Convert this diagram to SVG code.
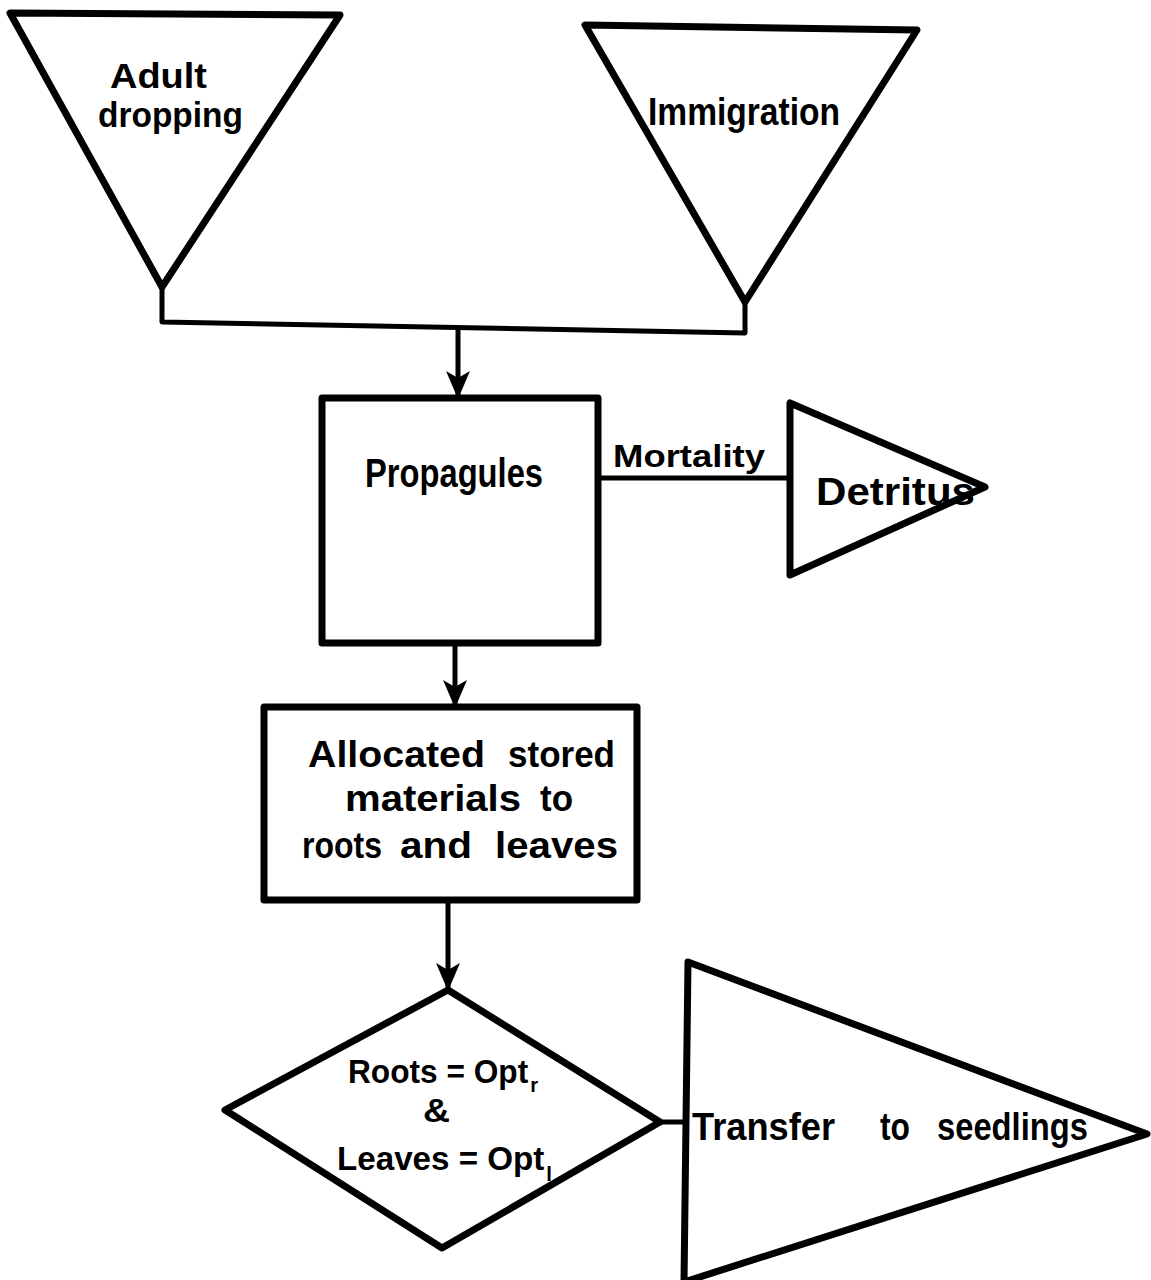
<svg xmlns="http://www.w3.org/2000/svg" width="1151" height="1280" viewBox="0 0 1151 1280">
<style>
.shape{fill:#fff;stroke:#000;stroke-width:7;stroke-linejoin:round}
.conn{fill:none;stroke:#000;stroke-width:5;stroke-linejoin:round}
.lbl{font-family:"Liberation Sans",Arial,sans-serif;font-weight:bold;font-size:38px;fill:#000}
.sub{font-size:21px}
</style>
<defs>
<marker id="ah" viewBox="0 0 28 24" refX="27" refY="12" markerWidth="28" markerHeight="24" markerUnits="userSpaceOnUse" orient="auto">
<path d="M0,0 L28,12 L0,24 L7,12 Z" fill="#000"/>
</marker>
</defs>
<rect width="1151" height="1280" fill="#fff"/>
<g id="connectors">
<polyline class="conn" points="162,287 162,322 745,333 745,302"/>
<line class="conn" x1="458" y1="328" x2="458" y2="398" marker-end="url(#ah)"/>
<line class="conn" x1="598" y1="478" x2="790" y2="478"/>
<line class="conn" x1="455" y1="643" x2="455" y2="707" marker-end="url(#ah)"/>
<line class="conn" x1="448" y1="900" x2="448" y2="990" marker-end="url(#ah)"/>
<line class="conn" x1="660" y1="1122" x2="687" y2="1122"/>
<text class="lbl" x="613" y="467" style="font-size:31px" textLength="152" lengthAdjust="spacingAndGlyphs">Mortality</text>
</g>
<g id="adult-dropping">
<polygon class="shape" points="10,13 340,15 162,287"/>
<text class="lbl" x="110" y="88" style="font-size:35px" textLength="97" lengthAdjust="spacingAndGlyphs">Adult</text>
<text class="lbl" x="98" y="127" style="font-size:35px" textLength="145" lengthAdjust="spacingAndGlyphs">dropping</text>
</g>
<g id="immigration">
<polygon class="shape" points="585,25 917,30 745,302"/>
<text class="lbl" x="648" y="125" style="font-size:39px" textLength="192" lengthAdjust="spacingAndGlyphs">Immigration</text>
</g>
<g id="propagules">
<rect class="shape" x="322" y="398" width="276" height="245"/>
<text class="lbl" x="365" y="487" style="font-size:40px" textLength="178" lengthAdjust="spacingAndGlyphs">Propagules</text>
</g>
<g id="detritus">
<polygon class="shape" points="790,403 790,575 985,487"/>
<text class="lbl" x="816" y="505" style="font-size:39px" textLength="159" lengthAdjust="spacingAndGlyphs">Detritus</text>
</g>
<g id="allocated">
<rect class="shape" x="264" y="707" width="373" height="193"/>
<text class="lbl" y="767" style="font-size:36px"><tspan x="308" textLength="177" lengthAdjust="spacingAndGlyphs">Allocated</tspan> <tspan x="508" textLength="107" lengthAdjust="spacingAndGlyphs">stored</tspan></text>
<text class="lbl" y="811" style="font-size:36px"><tspan x="345" textLength="176" lengthAdjust="spacingAndGlyphs">materials</tspan> <tspan x="540" textLength="33" lengthAdjust="spacingAndGlyphs">to</tspan></text>
<text class="lbl" y="858" style="font-size:36px"><tspan x="302" textLength="80" lengthAdjust="spacingAndGlyphs">roots</tspan> <tspan x="400" textLength="72" lengthAdjust="spacingAndGlyphs">and</tspan> <tspan x="495" textLength="123" lengthAdjust="spacingAndGlyphs">leaves</tspan></text>
</g>
<g id="decision">
<polygon class="shape" points="448,990 660,1122 442,1248 225,1110"/>
<text class="lbl" x="348" y="1083" style="font-size:33px" textLength="190" lengthAdjust="spacingAndGlyphs">Roots = Opt<tspan class="sub" dx="2" dy="9">r</tspan></text>
<text class="lbl" x="423" y="1122" style="font-size:34px" textLength="27" lengthAdjust="spacingAndGlyphs">&amp;</text>
<text class="lbl" x="337" y="1170" style="font-size:34px" textLength="215" lengthAdjust="spacingAndGlyphs">Leaves = Opt<tspan class="sub" dx="2" dy="11">l</tspan></text>
</g>
<g id="transfer">
<polygon class="shape" points="688,962 1147,1134 684,1282"/>
<text class="lbl" y="1140" style="font-size:39px"><tspan x="692" textLength="143" lengthAdjust="spacingAndGlyphs">Transfer</tspan> <tspan x="880" textLength="30" lengthAdjust="spacingAndGlyphs">to</tspan> <tspan x="937" textLength="151" lengthAdjust="spacingAndGlyphs">seedlings</tspan></text>
</g>
</svg>
